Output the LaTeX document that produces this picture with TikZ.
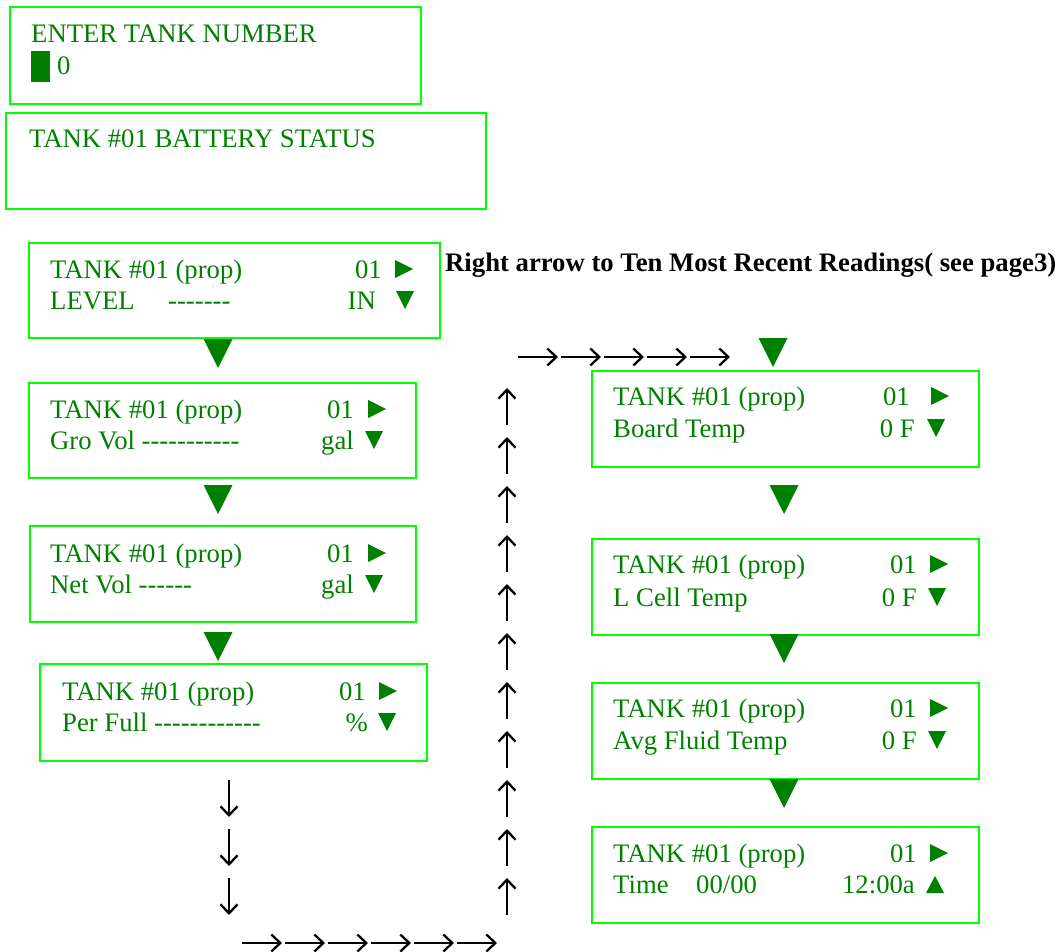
\documentclass[tikz,border=0pt]{standalone}
\usepackage{fontspec}
\setmainfont{Liberation Serif}
\usetikzlibrary{arrows.meta}
\definecolor{tgreen}{RGB}{0,128,0}
\definecolor{lime}{RGB}{0,255,0}
\newcommand\rtri[2]{\fill[tgreen] (#1,#2) -- ++(18,-9) -- ++(-18,-9) -- cycle;}
\newcommand\dtri[2]{\fill[tgreen] (#1,#2) ++(9,0) -- ++(-9,-18) -- ++(18,0) -- cycle;}
\newcommand\utri[2]{\fill[tgreen] (#1,#2) -- ++(18,0) -- ++(-9,-17) -- cycle;}
\newcommand\bigdown[2]{\fill[tgreen] (#1,#2) ++(-14.5,0) -- ++(29,0) -- ++(-14.5,29) -- cycle;}
\newcommand\hy{-{}}
\begin{document}
\begin{tikzpicture}[x=1pt,y=-1pt,
  box/.style={draw=lime,line width=2pt,anchor=north west,inner sep=0pt,outer sep=0pt},
  txt/.style={text=tgreen,font=\fontsize{26.7}{31}\selectfont,inner sep=0pt,anchor=base west},
  rtxt/.style={txt,anchor=base east},
  arr/.style={line width=2.3pt,-{Straight Barb[length=9pt,width=17pt,line width=2.3pt]}}]
\useasboundingbox (0,0) rectangle (1063,952);
% boxes
\node[box,minimum width=411pt,minimum height=97pt] (b1) at (10,7) {};
\node[box,minimum width=480pt,minimum height=96pt] (b2) at (6,113) {};
\node[box,minimum width=411pt,minimum height=95pt] (b3) at (29,243) {};
\node[box,minimum width=387pt,minimum height=95pt] (b4) at (29,383) {};
\node[box,minimum width=386pt,minimum height=96pt] (b5) at (30,526) {};
\node[box,minimum width=387pt,minimum height=97pt] (b6) at (40,664) {};
\node[box,minimum width=387pt,minimum height=96pt] (r1) at (592,371) {};
\node[box,minimum width=387pt,minimum height=96pt] (r2) at (592,539) {};
\node[box,minimum width=387pt,minimum height=96pt] (r3) at (592,683) {};
\node[box,minimum width=387pt,minimum height=96pt] (r4) at (592,827) {};
% box 1
\node[txt] (t1a) at (31,43) {ENTER TANK NUMBER};
\fill[tgreen] (31,51) rectangle (50,82);
\node[txt] (t1b) at (57,75) {0};
% box 2
\node[txt] (t2a) at (29,148) {TANK \#01 BATTERY STATUS};
% box 3
\node[txt] (t3a) at (50,278) {TANK \#01 (prop)};
\node[rtxt] (t3b) at (382,278) {01};
\rtri{395}{278}
\node[txt] (t3c) at (50,309) {LEVEL};
\node[txt] (t3d) at (168,309) {\hy\hy\hy\hy\hy\hy\hy};
\node[rtxt] (t3e) at (376,309) {IN};
\dtri{396}{309}
% box 4
\node[txt] (t4a) at (50,418) {TANK \#01 (prop)};
\node[rtxt] (t4b) at (354,418) {01};
\rtri{368}{418}
\node[txt] (t4c) at (50,449) {Gro Vol \hy\hy\hy\hy\hy\hy\hy\hy\hy\hy\hy};
\node[rtxt] (t4d) at (354,449) {gal};
\dtri{365}{449}
% box 5
\node[txt] (t5a) at (50,562) {TANK \#01 (prop)};
\node[rtxt] (t5b) at (354,562) {01};
\rtri{368}{562}
\node[txt] (t5c) at (50,593) {Net Vol \hy\hy\hy\hy\hy\hy};
\node[rtxt] (t5d) at (354,593) {gal};
\dtri{365}{593}
% box 6
\node[txt] (t6a) at (62,700) {TANK \#01 (prop)};
\node[rtxt] (t6b) at (366,700) {01};
\rtri{379}{700}
\node[txt] (t6c) at (62,731) {Per Full \hy\hy\hy\hy\hy\hy\hy\hy\hy\hy\hy\hy};
\node[rtxt] (t6d) at (368,731) {\%};
\dtri{378}{731}
% right 1
\node[txt] (u1a) at (613,405) {TANK \#01 (prop)};
\node[rtxt] (u1b) at (910,405) {01};
\rtri{931}{405}
\node[txt] (u1c) at (613,437) {Board Temp};
\node[rtxt] (u1d) at (915,437) {0 F};
\dtri{927}{437}
% right 2
\node[txt] (u2a) at (613,573) {TANK \#01 (prop)};
\node[rtxt] (u2b) at (917,573) {01};
\rtri{930}{573}
\node[txt] (u2c) at (613,606) {L Cell Temp};
\node[rtxt] (u2d) at (917,606) {0 F};
\dtri{928}{606}
% right 3
\node[txt] (u3a) at (613,717) {TANK \#01 (prop)};
\node[rtxt] (u3b) at (917,717) {01};
\rtri{930}{717}
\node[txt] (u3c) at (613,749) {Avg Fluid Temp};
\node[rtxt] (u3d) at (917,749) {0 F};
\dtri{928}{749}
% right 4
\node[txt] (u4a) at (613,862) {TANK \#01 (prop)};
\node[rtxt] (u4b) at (917,862) {01};
\rtri{930}{862}
\node[txt] (u4c) at (613,893) {Time};
\node[txt] (u4d) at (696,893) {00/00};
\node[rtxt] (u4e) at (915,893) {12:00a};
\utri{926}{893}
% title
\node[txt,text=black,font=\fontsize{26.7}{31}\selectfont\bfseries] (title) at (445,272) {Right arrow to Ten Most Recent Readings( see page3)};
% big triangles
\bigdown{218}{339}
\bigdown{218}{485}
\bigdown{218}{632}
\bigdown{773}{338}
\bigdown{784}{485}
\bigdown{784}{634}
\bigdown{784}{779}
% black arrows
\foreach \k in {0,...,4} {\draw[arr] (518+43*\k,357) -- ++(40,0);}
\foreach \k in {0,...,10} {\draw[arr] (507,388+49*\k+37) -- ++(0,-37);}
\foreach \k in {0,...,2} {\draw[arr] (229,780+49*\k) -- ++(0,37);}
\foreach \k in {0,...,5} {\draw[arr] (242+43*\k,943) -- ++(40,0);}
\end{tikzpicture}
\end{document}
